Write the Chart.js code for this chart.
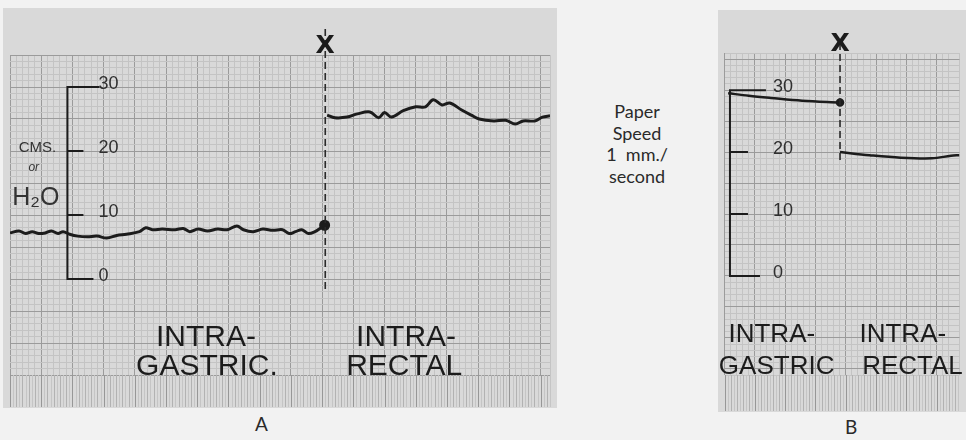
<!DOCTYPE html>
<html>
<head>
<meta charset="utf-8">
<script src="https://cdn.jsdelivr.net/npm/chart.js@4.4.1/dist/chart.umd.min.js"></script>
<style>
  body { margin: 0; width: 966px; height: 440px; background: #f2f2f2; position: relative; overflow: hidden; font-family: Lato, "Open Sans", sans-serif; color: #2a2a2a; }
  #wrap-a { position: absolute; left: 3px; top: 8px; width: 554px; height: 400px; }
  #wrap-b { position: absolute; left: 718px; top: 10px; width: 248px; height: 402px; }
  .speed { position: absolute; left: 587px; top: 101px; width: 100px; text-align: center; font-size: 18px; line-height: 21.5px; }
  .panel { position: absolute; font-size: 19px; }
</style>
</head>
<body>
<div id="wrap-a"><canvas id="chart-a" width="554" height="400"></canvas></div>
<div id="wrap-b"><canvas id="chart-b" width="248" height="402"></canvas></div>
<div class="speed">Paper<br>Speed<br>1&nbsp; mm./<br>second</div>
<div class="panel" style="left:255px; top:412px;">A</div>
<div class="panel" style="left:845px; top:415px;">B</div>

<script>
// time in seconds (1 mm of paper = 1 s), pressure in cms. of H2O
const scaleMarks = [0, 10, 20, 30];

// Record A
const tGastricA = [0, 2.9, 5, 7.1, 9.2, 11.3, 13.3, 15.4, 17, 19.1, 21.7, 24.8, 27.9, 31, 34.2, 37.3, 41.5, 43.5, 45.6, 48.8, 52.9, 55.5, 57.6, 60.2, 63.3, 66.5, 69.6, 72.7, 74.8, 77.9, 81, 84.2, 87.3, 89.4, 91.5, 93.5, 95.6, 97.7, 99.3, 100.8];
const pGastricA = [7.2, 7.5, 7.1, 7.4, 7.1, 7.2, 7.5, 7.1, 7.4, 7.0, 6.7, 6.6, 6.7, 6.4, 6.8, 7.0, 7.4, 8.0, 7.7, 7.8, 7.7, 7.9, 7.4, 7.8, 7.5, 7.8, 7.7, 8.3, 7.7, 7.4, 7.8, 7.6, 7.7, 7.1, 7.4, 7.7, 7.1, 7.4, 7.9, 8.4];
const tRectalA = [101.6, 104.1, 108, 111.3, 115.3, 118.1, 120, 122.2, 126, 130, 133.1, 135.6, 138.4, 140.9, 144.7, 147.8, 150.3, 155, 158.8, 161.9, 164.4, 168.1, 170.6, 173];
const pRectalA = [25.6, 25.2, 25.3, 25.8, 26.1, 25.2, 26.0, 25.3, 26.3, 26.9, 26.9, 28.0, 27.2, 27.5, 26.4, 25.6, 25.0, 24.7, 24.8, 24.2, 24.7, 24.7, 25.3, 25.5];
const markerA = 101;

// Record B
const tGastricB = [1.2, 8, 15.3, 25.6, 38.1];
const pGastricB = [29.5, 29.1, 28.75, 28.3, 28.0];
const tRectalB = [38.1, 47.8, 58.1, 68.4, 74.7, 77.5];
const pRectalB = [20.0, 19.5, 19.1, 19.0, 19.4, 19.5];
const markerB = 38.1;

const ink = '#1c1c1c';
const pts = (t, p) => t.map((v, i) => ({ x: v, y: p[i] }));

const paperPlugin = {
  id: 'paper',
  beforeDraw(chart, args, o) {
    const { ctx, width, height } = chart;
    ctx.save();
    ctx.fillStyle = o.paper;
    ctx.fillRect(0, 0, width, height);
    ctx.restore();
  },
  beforeDatasetsDraw(chart, args, o) {
    const { ctx, chartArea, height, scales: { x } } = chart;
    // hatched strip under the grid: only the 1 mm verticals
    ctx.save();
    ctx.lineWidth = 1;
    for (let s = Math.ceil(x.min); s <= x.max; s++) {
      const px = Math.round(x.getPixelForValue(s)) + 0.5;
      ctx.strokeStyle = s % 10 === 0 ? '#979797' : (s % 2 === 0 ? '#b2b2b2' : '#c5c5c5');
      ctx.beginPath();
      ctx.moveTo(px, chartArea.bottom);
      ctx.lineTo(px, height - 1);
      ctx.stroke();
    }
    ctx.restore();
  },
  afterDatasetsDraw(chart, args, o) {
    const { ctx, chartArea, scales: { x, y } } = chart;
    ctx.save();
    ctx.strokeStyle = ink;
    ctx.fillStyle = ink;

    // hand drawn pressure scale
    const ax = x.getPixelForValue(o.axisAt);
    ctx.lineWidth = 2;
    ctx.beginPath();
    ctx.moveTo(ax, y.getPixelForValue(scaleMarks[scaleMarks.length - 1]));
    ctx.lineTo(ax, y.getPixelForValue(scaleMarks[0]));
    scaleMarks.forEach((v, i) => {
      const py = y.getPixelForValue(v);
      ctx.moveTo(ax - 1, py);
      ctx.lineTo(ax + o.tickLen[i], py);
    });
    ctx.stroke();
    ctx.fillStyle = '#303030';
    ctx.font = o.markFont;
    ctx.textAlign = 'left';
    ctx.textBaseline = 'alphabetic';
    scaleMarks.forEach(v => {
      ctx.fillText(String(v), ax + o.labelGap, y.getPixelForValue(v) + 2);
    });

    // change-over marker
    const mx = x.getPixelForValue(o.marker);
    ctx.strokeStyle = '#2a2a2a';
    ctx.lineWidth = 1.6;
    ctx.setLineDash([7, 4]);
    ctx.beginPath();
    ctx.moveTo(mx, chartArea.top - o.markerRise);
    ctx.lineTo(mx, y.getPixelForValue(o.markerEnd));
    ctx.stroke();
    ctx.setLineDash([]);
    ctx.fillStyle = ink;
    ctx.font = 'bold 25px "DejaVu Sans"';
    ctx.textAlign = 'center';
    ctx.textBaseline = 'bottom';
    ctx.fillText('X', mx, chartArea.top + 4);

    // lettering on the paper
    ctx.textBaseline = 'alphabetic';
    o.lettering.forEach(l => {
      ctx.font = l.font;
      ctx.fillStyle = l.color || ink;
      ctx.fillText(l.text, x.getPixelForValue(l.x), y.getPixelForValue(l.y));
    });
    ctx.restore();
  }
};

function makeChart(id, datasets, xMax, yMin, yMax, pad, paper) {
  const gridColor = major => c => (Number.isInteger(c.tick.value) && c.tick.value % major === 0) ? '#9b9b9b' : '#c4c4c4';
  return new Chart(document.getElementById(id), {
    type: 'line',
    data: { datasets },
    options: {
      responsive: false, animation: false, devicePixelRatio: 1, events: [],
      layout: { padding: pad },
      plugins: { legend: { display: false }, tooltip: { enabled: false }, paper },
      scales: {
        x: { type: 'linear', min: 0, max: xMax, ticks: { display: false, stepSize: 2 },
             grid: { color: gridColor(10), drawTicks: false }, border: { display: false } },
        y: { type: 'linear', min: yMin, max: yMax, ticks: { display: false, stepSize: 1 },
             grid: { color: gridColor(5), drawTicks: false }, border: { display: false } }
      }
    },
    plugins: [paperPlugin]
  });
}

const trace = (data, width, dot) => ({
  data, borderColor: ink, backgroundColor: ink, borderWidth: width, tension: 0.35,
  pointRadius: c => (dot && c.dataIndex === data.length - 1) ? dot : 0
});

const letterFont = '30px "Liberation Sans"';
makeChart('chart-a',
  [trace(pts(tGastricA, pGastricA), 3, 4), trace(pts(tRectalA, pRectalA), 3, 0)],
  173, -15, 35, { top: 47, bottom: 33, left: 0, right: 0 },
  {
    paper: '#d9d9d9', axisAt: 18.4, tickLen: [26, 16, 16, 32], labelGap: 31,
    markFont: '18px "Liberation Sans"', marker: markerA, markerRise: 26, markerEnd: -1.8,
    lettering: [
      { text: 'INTRA-', x: 62.8, y: -10.4, font: letterFont },
      { text: 'GASTRIC.', x: 63.1, y: -15, font: letterFont },
      { text: 'INTRA-', x: 126.9, y: -10.4, font: letterFont },
      { text: 'RECTAL', x: 126.3, y: -15, font: letterFont },
      { text: 'CMS.', x: 8.8, y: 19.8, font: '15px "Liberation Sans"', color: '#333' },
      { text: 'or', x: 7.6, y: 16.8, font: 'italic 12px "Liberation Sans"', color: '#333' },
      { text: 'H₂O', x: 8.3, y: 11.6, font: '25px "Liberation Sans"', color: '#333' }
    ]
  });

const letterFontB = '26px "Liberation Sans"';
makeChart('chart-b',
  [trace(pts(tGastricB, pGastricB), 2.5, 3), trace(pts(tRectalB, pRectalB), 2.5, 0)],
  77.5, -16, 36, { top: 43, bottom: 37, left: 0, right: 0 },
  {
    paper: '#d9d9d9', axisAt: 1.8, tickLen: [30, 18, 18, 36], labelGap: 43,
    markFont: '18px "Liberation Sans"', marker: markerB, markerRise: 10, markerEnd: 18.2,
    lettering: [
      { text: 'INTRA-', x: 15.6, y: -10.7, font: letterFontB },
      { text: 'GASTRIC', x: 17.2, y: -15.8, font: letterFontB },
      { text: 'INTRA-', x: 58.8, y: -10.7, font: letterFontB },
      { text: 'RECTAL', x: 62, y: -15.8, font: letterFontB }
    ]
  });
</script>
</body>
</html>
